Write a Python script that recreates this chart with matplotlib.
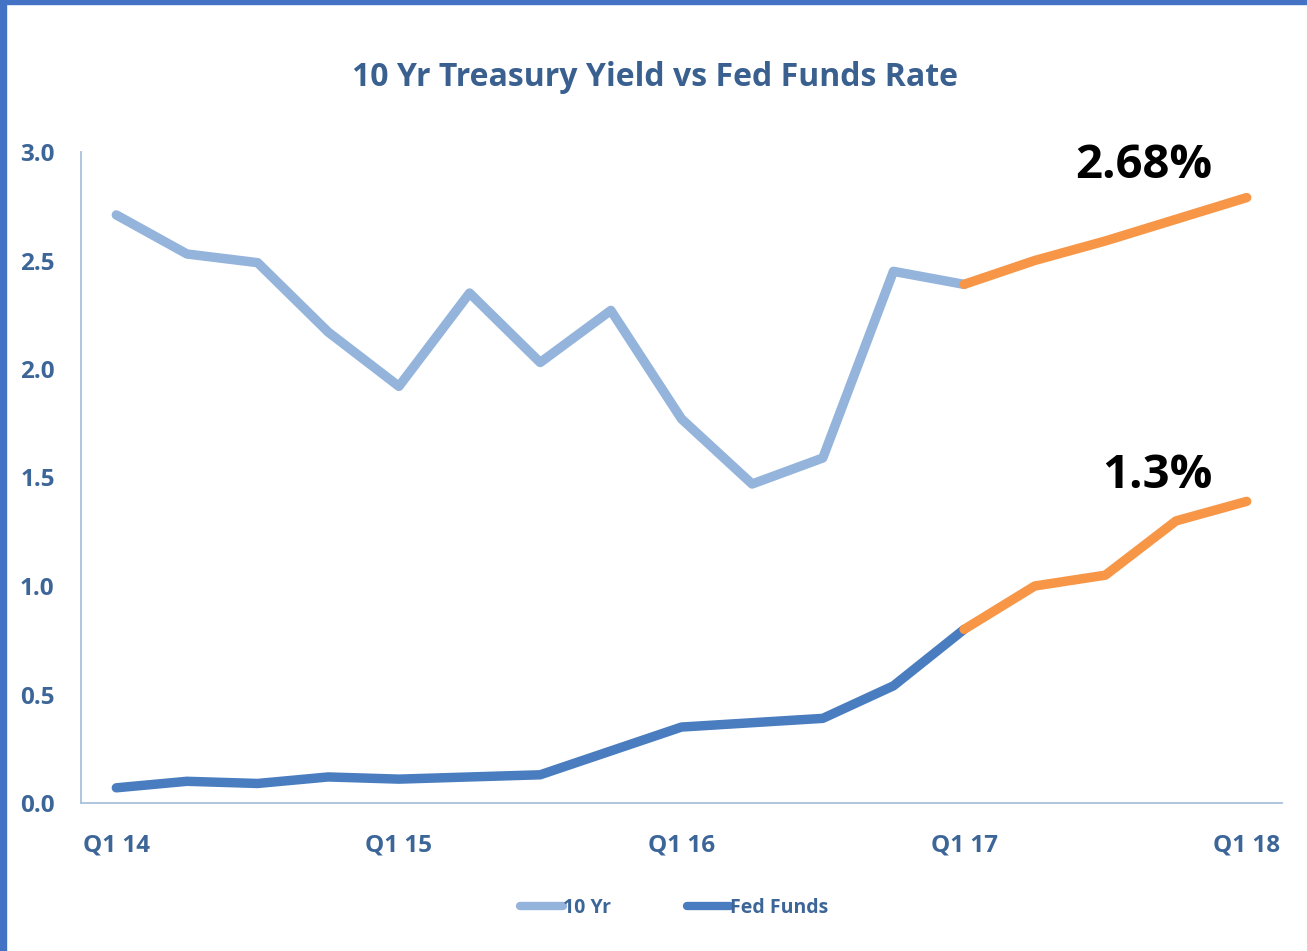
import matplotlib
matplotlib.use("Agg")
import matplotlib.pyplot as plt
from matplotlib.lines import Line2D
from matplotlib.patches import Rectangle

quarters = ["Q1 14", "Q2 14", "Q3 14", "Q4 14", "Q1 15", "Q2 15", "Q3 15", "Q4 15",
            "Q1 16", "Q2 16", "Q3 16", "Q4 16", "Q1 17", "Q2 17", "Q3 17", "Q4 17", "Q1 18"]
ten_yr = [2.71, 2.53, 2.49, 2.17, 1.92, 2.35, 2.03, 2.27, 1.77, 1.47, 1.59, 2.45, 2.39,
          2.50, 2.59, 2.69, 2.79]
fed_funds = [0.07, 0.10, 0.09, 0.12, 0.11, 0.12, 0.13, 0.24, 0.35, 0.37, 0.39, 0.54, 0.80,
             1.00, 1.05, 1.30, 1.39]
forecast_start = 12  # Q1 17
yticks = [0.0, 0.5, 1.0, 1.5, 2.0, 2.5, 3.0]
label_10yr = "2.68%"
label_ff = "1.3%"

plt.rcParams['font.family'] = ['Open Sans', 'DejaVu Sans']
W, H = 1307, 951
fig = plt.figure(figsize=(W / 100, H / 100), dpi=100)

# blue frame on top and left
fig.patches.append(Rectangle((0, 0), 6 / W, 1, transform=fig.transFigure, color="#4472c4", zorder=10))
fig.patches.append(Rectangle((0, 1 - 4 / H), 1, 4 / H, transform=fig.transFigure, color="#4472c4", zorder=10))

ax = fig.add_axes([81 / W, (H - 803) / H, (1282 - 81) / W, (803 - 152) / H])
x = list(range(len(quarters)))

c10 = "#94b4dc"
cff = "#4a7dbf"
corange = "#f79646"
lw = 6.8
kw = dict(lw=lw, solid_capstyle="round", solid_joinstyle="round")

ax.plot(x[:forecast_start + 1], ten_yr[:forecast_start + 1], color=c10, **kw)
ax.plot(x[forecast_start:], ten_yr[forecast_start:], color=corange, **kw)
ax.plot(x[:forecast_start + 1], fed_funds[:forecast_start + 1], color=cff, **kw)
ax.plot(x[forecast_start:], fed_funds[forecast_start:], color=corange, **kw)

ax.set_xlim(-0.5, len(quarters) - 0.5)
ax.set_ylim(0, 3.0)
ax.set_yticks(yticks)
ax.set_yticklabels([f"{v:.1f}" for v in yticks])
ax.set_xticks(x[::4])
ax.set_xticklabels(quarters[::4])

tick_color = "#3d6698"
for lab in ax.get_xticklabels() + ax.get_yticklabels():
    lab.set_fontweight("bold")
    lab.set_color(tick_color)
    lab.set_fontsize(17.5)
ax.tick_params(axis="both", length=0)
ax.tick_params(axis="y", pad=19)
ax.tick_params(axis="x", pad=22)

for s in ["top", "right"]:
    ax.spines[s].set_visible(False)
for s in ["left", "bottom"]:
    ax.spines[s].set_color("#a9c0dc")
    ax.spines[s].set_linewidth(1.3)

fig.text(655 / W, 1 - 77 / H, "10 Yr Treasury Yield vs Fed Funds Rate", ha="center", va="center",
         fontsize=23, fontweight="bold", color="#3a6090")

ax.text(14.55, 2.94, label_10yr, ha="center", va="center", fontsize=34, fontweight="bold", color="black")
ax.text(14.74, 1.51, label_ff, ha="center", va="center", fontsize=34, fontweight="bold", color="black")

handles = [Line2D([0], [0], color=c10, lw=6, solid_capstyle="round"),
           Line2D([0], [0], color=cff, lw=6, solid_capstyle="round")]
leg = fig.legend(handles, ["10 Yr", "Fed Funds"], loc="center", bbox_to_anchor=(674 / W, 1 - 908 / H),
                 ncol=2, frameon=False, handlelength=2.2, handletextpad=0.0, columnspacing=3.9,
                 prop={"weight": "bold", "size": 14})
for t in leg.get_texts():
    t.set_color(tick_color)

fig.savefig("out.png", dpi=100, facecolor="white")
